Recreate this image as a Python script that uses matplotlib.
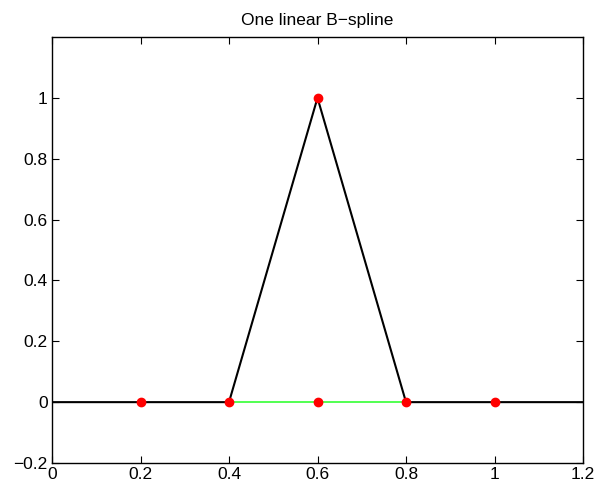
import matplotlib
matplotlib.use("Agg")
import matplotlib.pyplot as plt

# spline curve
x_curve = [0.0, 0.4, 0.6, 0.8, 1.2]
y_curve = [0.0, 0.0, 1.0, 0.0, 0.0]
# support segment
x_support = [0.4, 0.8]
y_support = [0.0, 0.0]
# knots and peak
x_knots = [0.2, 0.4, 0.6, 0.8, 1.0, 0.6]
y_knots = [0.0, 0.0, 0.0, 0.0, 0.0, 1.0]

x_ticks = [0, 0.2, 0.4, 0.6, 0.8, 1.0, 1.2]
x_labels = ["0", "0.2", "0.4", "0.6", "0.8", "1", "1.2"]
y_ticks = [-0.2, 0, 0.2, 0.4, 0.6, 0.8, 1.0]
y_labels = ["\u22120.2", "0", "0.2", "0.4", "0.6", "0.8", "1"]

plt.rcParams["font.family"] = ["Liberation Sans", "DejaVu Sans"]

fig = plt.figure(figsize=(5.97, 4.87), dpi=100)
ax = fig.add_axes([52 / 597, 24 / 487, 531 / 597, 426 / 487])

ax.plot(x_curve, y_curve, color="black", linewidth=1.5, zorder=2)
ax.plot(x_support, y_support, color="#33ff33", linewidth=1.2, zorder=3)
ax.plot(x_knots, y_knots, "o", color="red", markersize=6, zorder=4)

ax.set_xlim(0, 1.2)
ax.set_ylim(-0.2, 1.2)
ax.set_xticks(x_ticks)
ax.set_xticklabels(x_labels)
ax.set_yticks(y_ticks)
ax.set_yticklabels(y_labels)
ax.tick_params(direction="in", length=5, width=0.8, labelsize=12.5,
               top=True, right=True, pad=3)
for s in ax.spines.values():
    s.set_linewidth(1.0)

ax.set_title("One linear B\u2212spline", fontsize=12.5, pad=9)

fig.savefig("out.png", dpi=100)
